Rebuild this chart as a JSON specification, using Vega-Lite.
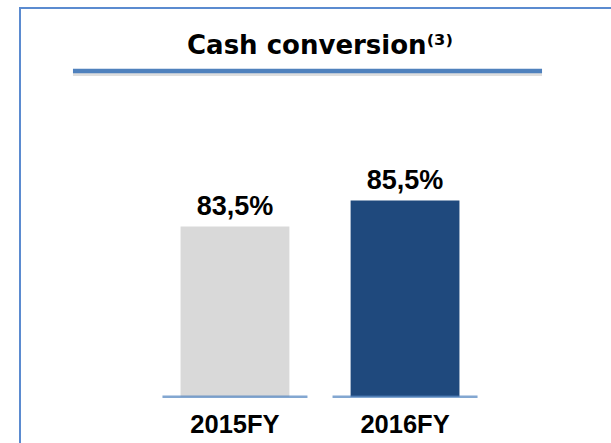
{
  "$schema": "https://vega.github.io/schema/vega-lite/v6.json",
  "autosize": {"type": "none"},
  "width": 600,
  "height": 450,
  "padding": {"left": 20, "top": 8, "right": 0, "bottom": 0},
  "background": "white",
  "title": {
    "text": "Cash conversion⁽³⁾",
    "font": "DejaVu Sans",
    "fontSize": 26,
    "fontWeight": "bold",
    "color": "#000000",
    "anchor": "middle",
    "frame": "group",
    "baseline": "alphabetic",
    "offset": -72
  },
  "data": {
    "values": [
      {"year": "2015FY", "value": 0.835},
      {"year": "2016FY", "value": 0.855}
    ]
  },
  "encoding": {
    "x": {
      "field": "year",
      "type": "nominal",
      "sort": null,
      "scale": {"paddingInner": 0.36, "paddingOuter": 0.944},
      "axis": {
        "title": null,
        "orient": "bottom",
        "offset": -40,
        "domain": false,
        "ticks": false,
        "tickSize": 0,
        "labelPadding": 14,
        "labelBaseline": "alphabetic",
        "labelAngle": 0,
        "labelFont": "Liberation Sans",
        "labelFontSize": 25.5,
        "labelFontWeight": "bold",
        "labelColor": "#000000"
      }
    }
  },
  "layer": [
    {
      "mark": {"type": "bar"},
      "encoding": {
        "y": {
          "field": "value",
          "type": "quantitative",
          "scale": {"domain": [0.657, 1.003], "nice": false, "zero": false},
          "axis": null
        },
        "y2": {"datum": 0.704},
        "color": {
          "field": "year",
          "type": "nominal",
          "scale": {"domain": ["2015FY", "2016FY"], "range": ["#d9d9d9", "#1f497d"]},
          "legend": null
        }
      }
    },
    {
      "mark": {"type": "tick", "orient": "horizontal", "size": 145, "thickness": 2.5, "color": "#4f81bd"},
      "encoding": {
        "y": {"datum": 0.704, "type": "quantitative"}
      }
    },
    {
      "mark": {
        "type": "text",
        "baseline": "alphabetic",
        "dy": -11,
        "font": "Liberation Sans",
        "fontSize": 27,
        "fontWeight": "bold",
        "color": "#000000"
      },
      "encoding": {
        "y": {"field": "value", "type": "quantitative"},
        "text": {"field": "value", "type": "quantitative", "format": ".1%"}
      }
    },
    {
      "data": {"values": [{"a": "2015FY", "b": "2016FY"}]},
      "mark": {"type": "rule", "strokeWidth": 4, "color": "#c8c8c8", "opacity": 0.6, "yOffset": 3, "xOffset": -162, "x2Offset": 137},
      "encoding": {
        "x": {"field": "a", "type": "nominal"},
        "x2": {"field": "b"},
        "y": {"datum": 0.9546, "type": "quantitative"}
      }
    },
    {
      "data": {"values": [{"a": "2015FY", "b": "2016FY"}]},
      "mark": {"type": "rule", "strokeWidth": 4.5, "color": "#4f81bd", "xOffset": -162, "x2Offset": 137},
      "encoding": {
        "x": {"field": "a", "type": "nominal"},
        "x2": {"field": "b"},
        "y": {"datum": 0.9546, "type": "quantitative"}
      }
    }
  ],
  "config": {
    "locale": {"number": {"decimal": ",", "thousands": ".", "grouping": [3], "currency": ["", " €"]}},
    "view": {"stroke": "#5b8bd0", "strokeWidth": 2}
  }
}
